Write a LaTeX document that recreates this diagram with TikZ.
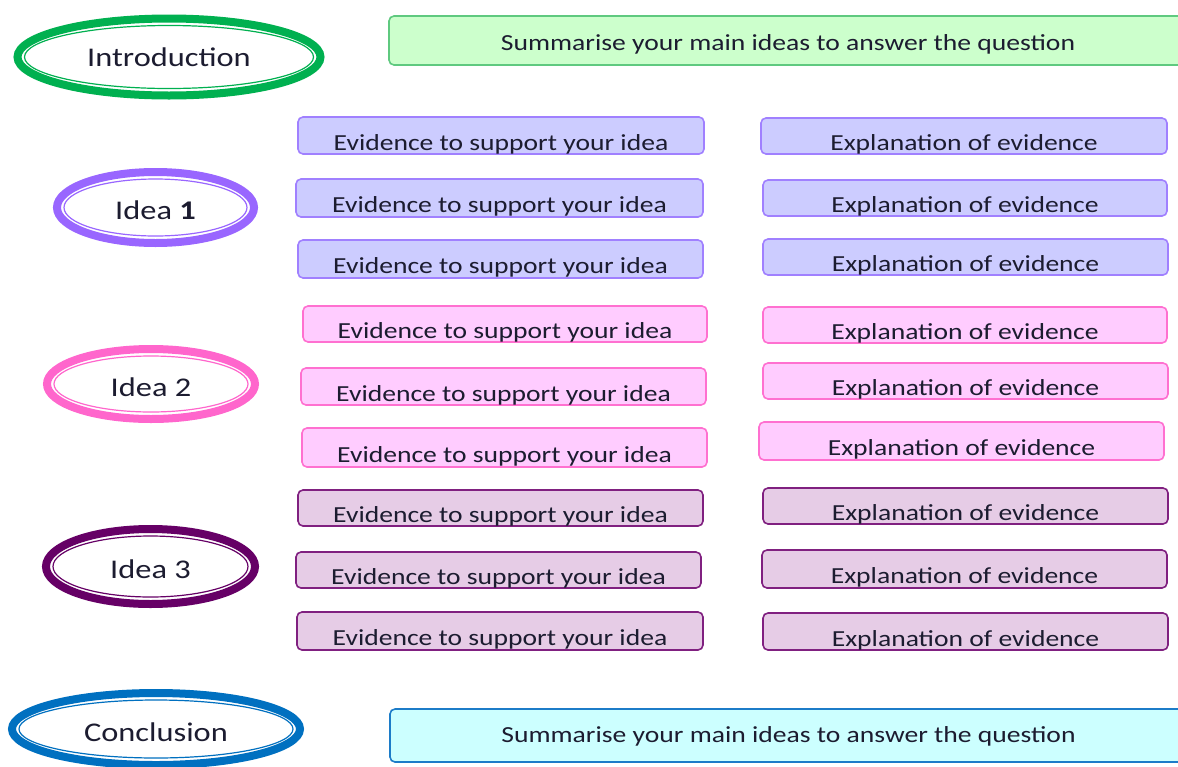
\documentclass[tikz,border=0pt]{standalone}
\usepackage{fontspec}
\setmainfont[FakeStretch=1.2]{Carlito}
\usetikzlibrary{shapes.geometric}

\definecolor{ink}{HTML}{1C1C30}
% section colours: ring colour, box fill, box border
\definecolor{greenring}{HTML}{00B050}
\definecolor{greenfill}{HTML}{CCFFCC}
\definecolor{greenedge}{HTML}{5FC97F}
\definecolor{violetring}{HTML}{9966FF}
\definecolor{violetfill}{HTML}{CCCCFF}
\definecolor{violetedge}{HTML}{A080FF}
\definecolor{pinkring}{HTML}{FF66CC}
\definecolor{pinkfill}{HTML}{FFCCFF}
\definecolor{pinkedge}{HTML}{FF70D0}
\definecolor{plumring}{HTML}{660066}
\definecolor{plumfill}{HTML}{E6CCE6}
\definecolor{plumedge}{HTML}{802080}
\definecolor{bluering}{HTML}{0070C0}
\definecolor{bluefill}{HTML}{CCFFFF}
\definecolor{blueedge}{HTML}{1C7CC8}

\tikzset{
  panel/.style={rectangle, rounded corners=5pt, line width=1.6pt,
    inner xsep=0pt, inner ysep=0pt, text height=29pt, text depth=0pt,
    font=\fontsize{23}{23}\selectfont, text=ink},
  greenbox/.style={panel, fill=greenfill, draw=greenedge},
  violetbox/.style={panel, fill=violetfill, draw=violetedge},
  pinkbox/.style={panel, fill=pinkfill, draw=pinkedge},
  plumbox/.style={panel, fill=plumfill, draw=plumedge},
  bluebox/.style={panel, fill=bluefill, draw=blueedge},
  ring/.style={ellipse, line width=8pt, inner sep=0pt, fill=white,
    text height=24pt, text depth=0pt,
    font=\fontsize{27}{27}\selectfont, text=ink},
}

% rounded box from its corner coordinates: name, x1, y1, x2, y2, style, text
\newcommand\panelbox[7]{%
  \pgfmathsetmacro\panelw{#4-#2}%
  \pgfmathsetmacro\panelh{#5-#3}%
  \node[#6, minimum width=\panelw pt, minimum height=\panelh pt]
    (#1) at ({(#2+#4)/2},{(#3+#5)/2}) {#7};}

% double-lined ellipse: name, cx, cy, rx, ry, colour, text, extra options
\newcommand\ringnode[8][]{%
  \node[ring, draw=#7, minimum width={2*#5 pt}, minimum height={2*#6 pt}, #1]
    (#2) at (#3,#4) {#8};
  \draw[#7, line width=1.2pt] (#2.center) ellipse [x radius={#5-7}, y radius={#6-7}];}

\begin{document}
\begin{tikzpicture}[x=1pt, y=-1pt]
\useasboundingbox (0,0) rectangle (1178,766);

% introduction
\ringnode[text height=19pt]{intro}{169}{57}{151.5}{38.5}{greenring}{Introduction}
\panelbox{introsum}{389}{16}{1187}{65}{greenbox, text height=20pt}{Summarise your main ideas to answer the question}

% idea 1
\ringnode{idea1}{155.5}{207.5}{98.5}{35.5}{violetring}{Idea \textbf{1}}
\panelbox{ev11}{298}{117}{704}{154}{violetbox}{Evidence to support your idea}
\panelbox{ev12}{296}{179}{703}{217}{violetbox}{Evidence to support your idea}
\panelbox{ev13}{298}{240}{703}{278}{violetbox}{Evidence to support your idea}
\panelbox{ex11}{761}{118}{1167}{154}{violetbox}{Explanation of evidence}
\panelbox{ex12}{763}{180}{1167}{216}{violetbox}{Explanation of evidence}
\panelbox{ex13}{763}{239}{1168}{275}{violetbox}{Explanation of evidence}

% idea 2
\ringnode{idea2}{151}{384}{104}{35}{pinkring}{Idea 2}
\panelbox{ev21}{303}{306}{707}{342}{pinkbox}{Evidence to support your idea}
\panelbox{ev22}{301}{368}{706}{405}{pinkbox}{Evidence to support your idea}
\panelbox{ev23}{302}{428}{707}{467}{pinkbox}{Evidence to support your idea}
\panelbox{ex21}{763}{307}{1167}{343}{pinkbox}{Explanation of evidence}
\panelbox{ex22}{763}{363}{1168}{399}{pinkbox}{Explanation of evidence}
\panelbox{ex23}{759}{422}{1164}{460}{pinkbox}{Explanation of evidence}

% idea 3
\ringnode{idea3}{150.5}{566.5}{104.5}{37.5}{plumring}{Idea 3}
\panelbox{ev31}{298}{490}{703}{526}{plumbox}{Evidence to support your idea}
\panelbox{ev32}{296}{552}{701}{588}{plumbox}{Evidence to support your idea}
\panelbox{ev33}{297}{612}{703}{650}{plumbox}{Evidence to support your idea}
\panelbox{ex31}{763}{488}{1168}{524}{plumbox}{Explanation of evidence}
\panelbox{ex32}{762}{550}{1167}{588}{plumbox}{Explanation of evidence}
\panelbox{ex33}{763}{613}{1168}{650}{plumbox}{Explanation of evidence}

% conclusion
\ringnode{concl}{156}{729}{144}{36}{bluering}{Conclusion}
\panelbox{conclsum}{390}{709}{1187}{762}{bluebox, text height=14pt}{Summarise your main ideas to answer the question}
\end{tikzpicture}
\end{document}
